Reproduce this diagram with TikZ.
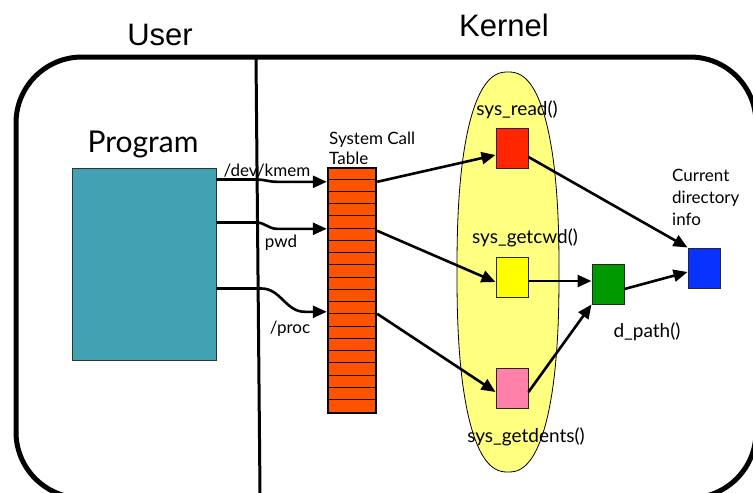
\documentclass[tikz,border=0pt]{standalone}
\usepackage{fontspec}
\setmainfont{Lato}
\newfontfamily\headfont{Liberation Sans}
\usetikzlibrary{arrows.meta}

\definecolor{progteal}{HTML}{43A1B4}
\definecolor{tablered}{HTML}{FF5200}
\definecolor{readred}{HTML}{FF2600}
\definecolor{cwdyellow}{HTML}{FFFF00}
\definecolor{dentspink}{HTML}{FF80A8}
\definecolor{pathgreen}{HTML}{009A00}
\definecolor{infoblue}{HTML}{0A32FF}
\definecolor{kernelyellow}{HTML}{FFFF80}

\begin{document}
\begin{tikzpicture}[x=1pt,y=-1pt,
  conn/.style={line width=2.6pt, -{Triangle[length=14pt,width=12pt]}},
  fnbox/.style={draw=black!85, line width=1pt, minimum width=32pt,
                minimum height=40pt, inner sep=0pt},
  lbl/.style={font=\fontsize{19}{22}\selectfont, inner sep=0pt},
  small/.style={font=\fontsize{17}{22}\selectfont, inner sep=0pt},
  head/.style={font=\headfont\fontsize{31}{34}\selectfont, inner sep=0pt}]
\useasboundingbox (0,0) rectangle (753,493);

% outer frame and user/kernel divider
\draw[line width=5pt, rounded corners=66pt] (16,57) rectangle (756,498);
\draw[line width=3pt] (256,57) -- (260,493);

\node[head] (user) at (160,35) {User};
\node[head] (kernel) at (504,25) {Kernel};

% user program
\node[fill=progteal, draw=black!80, line width=1pt, minimum width=144pt,
      minimum height=192pt, inner sep=0pt] (prog) at (144,264) {};
\node[font=\fontsize{30}{33}\selectfont, inner sep=0pt] (progl) at (143,144) {Program};

% kernel region: a slightly full oval
\draw[line width=0.8pt, fill=kernelyellow]
  plot[domain=0.5:360.5, samples=181, smooth cycle, variable=\t]
  ({508+51*sign(cos(\t))*abs(cos(\t))^(2/2.4)},
   {272+200*sign(sin(\t))*abs(sin(\t))^(2/2.4)});

% system call table
\node[fill=tablered, draw, line width=2.4pt, minimum width=48pt,
      minimum height=245pt, inner sep=0pt] (tab) at (352,290.5) {};
\foreach \i in {1,...,19}
  \draw[line width=1pt] ([yshift=-\i*12.25pt]tab.north west) -- ([yshift=-\i*12.25pt]tab.north east);
\node[small, align=left, anchor=south west, font=\fontsize{17}{20}\selectfont]
  (tabl) at (329,165) {System Call\\Table};

% kernel functions
\node[fnbox, fill=readred]   (read)  at (512,148) {};
\node[fnbox, fill=cwdyellow] (cwd)   at (512,277) {};
\node[fnbox, fill=dentspink] (dents) at (512,388) {};
\node[fnbox, fill=pathgreen] (dpath) at (608,284) {};
\node[fnbox, fill=infoblue]  (info)  at (704,268) {};

\node[lbl] (readl)  at (517,110) {sys\_read()};
\node[lbl] (cwdl)   at (525,238) {sys\_getcwd()};
\node[lbl] (dentsl) at (526,437) {sys\_getdents()};
\node[lbl] (dpathl) at (647,332) {d\_path()};
\node[small, align=left, anchor=north west] (infol) at (672,169)
  {Current\\directory\\info};

% ports on the program and the table
\coordinate (p1) at ([yshift=-12pt]prog.north east);
\coordinate (p2) at ([yshift=-55pt]prog.north east);
\coordinate (p3) at ([yshift=-121pt]prog.north east);
\coordinate (ti1) at ([yshift=-15pt]tab.north west);
\coordinate (ti2) at ([yshift=-62pt]tab.north west);
\coordinate (ti3) at ([yshift=-145pt]tab.north west);
\coordinate (to1) at ([yshift=-15pt]tab.north east);
\coordinate (to2) at ([yshift=-64pt]tab.north east);
\coordinate (to3) at ([yshift=-147pt]tab.north east);

% user calls into the table
\draw[conn] (p1) -- ([xshift=40pt]p1) to[out=0,in=180] ([xshift=-50pt]ti1) -- (ti1);
\draw[conn] (p2) -- ([xshift=40pt]p2) to[out=0,in=180] ([xshift=-50pt]ti2) -- (ti2);
\draw[conn] (p3) -- ([xshift=45pt]p3) to[out=0,in=180] ([xshift=-22pt]ti3) -- (ti3);

\node[small] (kmeml) at (267,171) {/dev/kmem};
\node[small] (pwdl)  at (281,243) {pwd};
\node[small] (procl) at (290,329) {/proc};

% table entries to kernel functions
\draw[conn] (to1) -- ([yshift=-7pt]read.west);
\draw[conn] (to2) -- ([yshift=-5pt]cwd.west);
\draw[conn] (to3) -- ([yshift=-4pt]dents.west);

% kernel function calls
\draw[conn] ([yshift=-9pt]read.east) -- (info.north west);
\draw[conn] ([yshift=-4pt]cwd.east) -- ([yshift=-4pt]cwd.east -| dpath.west);
\draw[conn] ([yshift=-4pt]dents.east) -- (dpath.south west);
\draw[conn] ([yshift=-5pt]dpath.east) -- ([yshift=-4pt]info.west);
\end{tikzpicture}
\end{document}
